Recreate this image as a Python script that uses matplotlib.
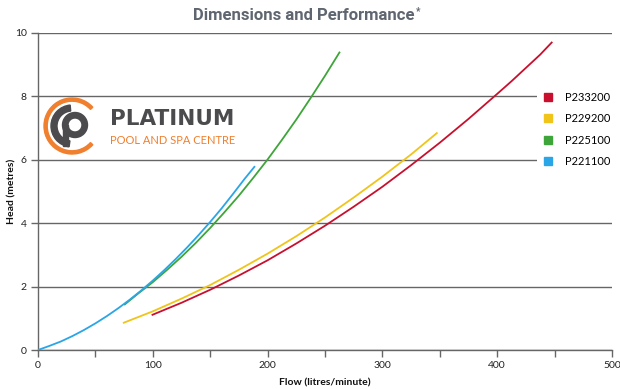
import matplotlib
matplotlib.use("Agg")
import matplotlib.pyplot as plt
from matplotlib.lines import Line2D
from matplotlib.patches import Wedge, Rectangle

# ---- data ----
series_names = ["P233200", "P229200", "P225100", "P221100"]
series_colors = ["#c8102e", "#f0c419", "#3ea53a", "#2aa5e6"]

p233200_flow = [99, 125, 150, 175, 200, 225, 250, 275, 300, 325, 350, 375, 400, 412.5, 425, 437.5, 448]
p233200_head = [1.10, 1.49, 1.90, 2.35, 2.83, 3.36, 3.92, 4.52, 5.15, 5.83, 6.54, 7.29, 8.08, 8.48,
                8.90, 9.32, 9.72]

p229200_flow = [74, 100, 125, 150, 175, 200, 225, 250, 275, 300, 325, 348]
p229200_head = [0.85, 1.22, 1.62, 2.05, 2.53, 3.04, 3.59, 4.18, 4.81, 5.47, 6.17, 6.86]

p225100_flow = [75, 87.5, 100, 112.5, 125, 137.5, 150, 162.5, 175, 187.5, 200, 212.5, 225, 237.5, 250, 263]
p225100_head = [1.42, 1.79, 2.14, 2.53, 2.94, 3.38, 3.85, 4.35, 4.87, 5.43, 6.01, 6.63, 7.27, 7.95, 8.65, 9.41]

p221100_flow = [0, 10, 20, 30, 40, 50, 60, 70, 80, 90, 100, 110, 120, 130, 140, 150, 160, 170, 180, 189]
p221100_head = [0.0, 0.13, 0.27, 0.44, 0.63, 0.84, 1.07, 1.32, 1.59, 1.88, 2.19, 2.52, 2.87, 3.24,
                3.63, 4.04, 4.47, 4.93, 5.40, 5.80]

x_ticks = [0, 50, 100, 150, 200, 250, 300, 350, 400, 450, 500]
x_tick_labels = ["0", "", "100", "", "200", "", "300", "", "400", "", "500"]
y_ticks = [0, 2, 4, 6, 8, 10]

title = "Dimensions and Performance"
x_label = "Flow (litres/minute)"
y_label = "Head (metres)"

# ---- figure ----
W, H = 620, 389
fig = plt.figure(figsize=(W / 100, H / 100), dpi=100)
ax = fig.add_axes([38 / W, 1 - 350 / H, 574 / W, 317 / H])

grid_c = "#666666"
ax.set_xlim(0, 500)
ax.set_ylim(0, 10)
ax.set_yticks(y_ticks)
ax.set_xticks(x_ticks)
ax.set_xticklabels(x_tick_labels)
for s in ["top", "right"]:
    ax.spines[s].set_visible(False)
for s in ["left", "bottom"]:
    ax.spines[s].set_color(grid_c)
    ax.spines[s].set_linewidth(1.0)
ax.tick_params(axis="both", direction="out", length=5, width=1.0, color=grid_c,
               labelsize=7.5, labelcolor="#222222", pad=3)
for lab in ax.get_xticklabels() + ax.get_yticklabels():
    lab.set_fontfamily("Lato")
ax.yaxis.grid(True, color=grid_c, linewidth=1.0)
ax.set_axisbelow(True)

flows = [p233200_flow, p229200_flow, p225100_flow, p221100_flow]
heads = [p233200_head, p229200_head, p225100_head, p221100_head]
for f, h, c in zip(flows, heads, series_colors):
    ax.plot(f, h, color=c, linewidth=1.3, solid_capstyle="butt", solid_joinstyle="round", zorder=3)

ax.set_xlabel(x_label, fontsize=7.5, fontweight="bold", family="Lato", color="#111111", labelpad=6)
fig.text(12 / W, 1 - 191 / H, y_label, rotation=90, ha="center", va="center",
         fontsize=7.5, fontweight="bold", family="Lato", color="#111111")

t = fig.text(304 / W, 1 - 16 / H, title, ha="center", va="center", fontsize=12,
             fontweight="bold", family="Roboto", color="#5f6670")
fig.canvas.draw()
bb = t.get_window_extent()
fig.text((bb.x1 + 1) / W, 1 - 11 / H, "*", ha="left", va="center", fontsize=7,
         fontweight="bold", family="Roboto", color="#5f6670")

handles = [Line2D([], [], marker="s", linestyle="none", markersize=6,
                  markerfacecolor=c, markeredgecolor=c) for c in series_colors]
leg = ax.legend(handles, series_names, loc="upper left",
                bbox_to_anchor=((537 - 38) / 574, (350 - 86) / 317),
                frameon=True, prop={"family": "Lato", "size": 8},
                handlelength=1.0, handletextpad=1.0, labelspacing=0.95,
                borderpad=0.5, borderaxespad=0.0)
leg.get_frame().set_facecolor("white")
leg.get_frame().set_edgecolor("none")
leg.get_frame().set_alpha(1.0)
leg.get_frame().set_boxstyle("square", pad=0.0)
leg.set_zorder(5)

# ---- logo ----
lax = fig.add_axes([(72 - 32) / W, 1 - (126 + 32) / H, 64 / W, 64 / H])
lax.set_xlim(-32, 32)
lax.set_ylim(-32, 32)
lax.set_aspect("equal")
lax.axis("off")
orange = "#f07f2e"
dark = "#4b4b4e"
lax.add_patch(Wedge((0, 0), 28, 42, 318, width=3.2, color=orange))
lax.add_patch(Wedge((0, 0), 21, 95, 262, width=6, color=dark))
lax.add_patch(Wedge((3, 1), 12.5, 0, 360, width=5.5, color=dark))
lax.add_patch(Rectangle((-9.5, -20), 5.5, 21, color=dark))

fig.text(110 / W, 1 - 119 / H, "PLATINUM", ha="left", va="center", fontsize=15.5,
         fontweight="bold", family="DejaVu Sans", color=dark)
fig.text(110 / W, 1 - 140 / H, "POOL AND SPA CENTRE", ha="left", va="center", fontsize=8,
         family="Lato", color=orange)

fig.savefig("out.png", dpi=100)
